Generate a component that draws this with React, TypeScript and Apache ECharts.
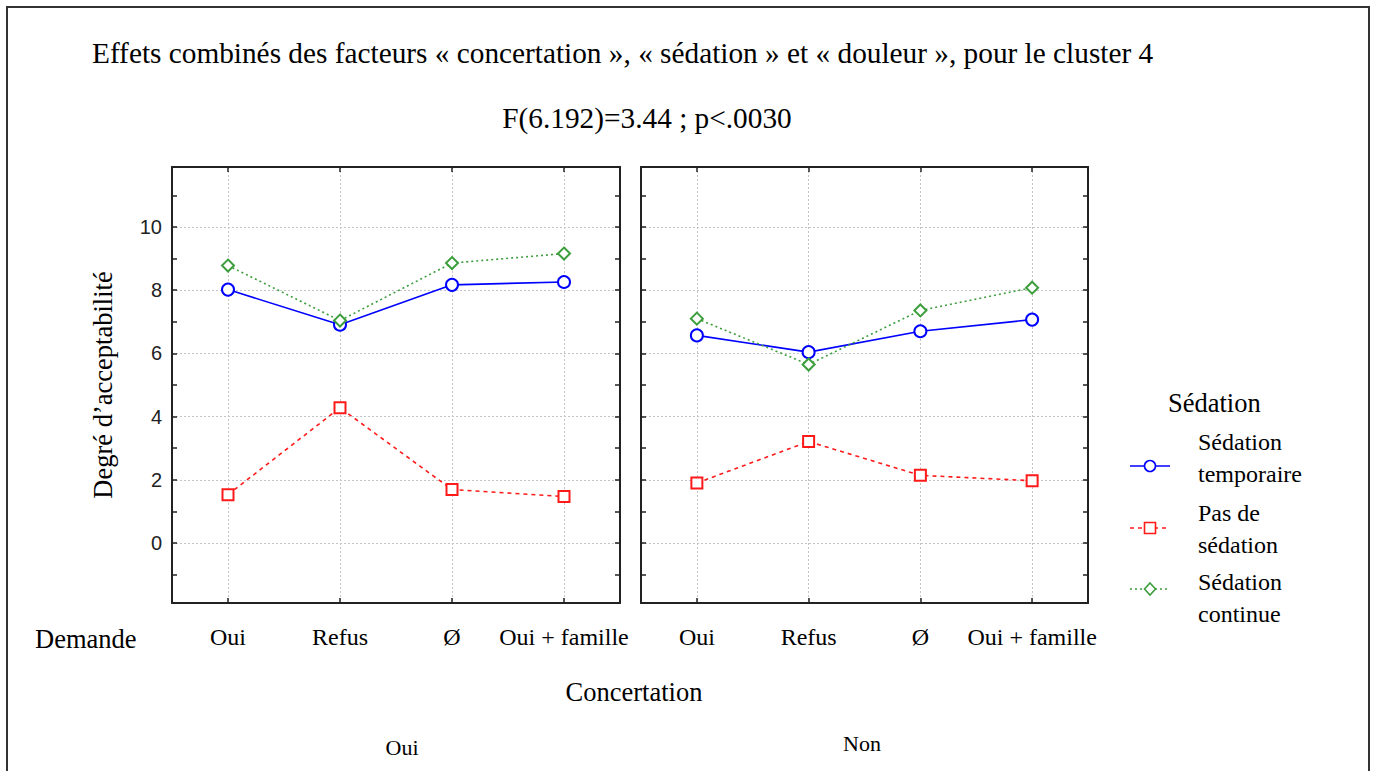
import React, { useEffect, useRef } from 'react';
import * as echarts from 'echarts';

const titleText = 'Effets combinés des facteurs « concertation », « sédation » et « douleur », pour le cluster 4';
const subtitleText = 'F(6.192)=3.44 ; p<.0030';
const yAxisTitle = 'Degré d’acceptabilité';
const xAxisTitle = 'Concertation';
const demandeTitle = 'Demande';
const legendTitle = 'Sédation';

const concertationLevels = ['Oui', 'Non'];
const demandes = ['Oui', 'Refus', 'Ø', 'Oui + famille'];
const seriesNames = ['Sédation\ntemporaire', 'Pas de\nsédation', 'Sédation\ncontinue'];

// Concertation = Oui
const temporaireOui = [8.02, 6.91, 8.17, 8.26];
const pasDeOui = [1.53, 4.28, 1.69, 1.47];
const continueOui = [8.78, 7.04, 8.86, 9.16];
// Concertation = Non
const temporaireNon = [6.57, 6.04, 6.70, 7.07];
const pasDeNon = [1.90, 3.21, 2.14, 1.97];
const continueNon = [7.10, 5.65, 7.36, 8.08];

const yMin = -1.9;
const yMax = 11.9;

const SERIF = '"Liberation Serif", "Times New Roman", serif';
const SANS = '"Liberation Sans", Arial, sans-serif';

const styles = [
  { color: '#0000ff', type: 'solid' as any, symbol: 'emptyCircle', size: 12 },
  { color: '#ff1a1a', type: [4, 4] as any, symbol: 'emptyRect', size: 11 },
  { color: '#3c9e3c', type: [2, 3] as any, symbol: 'emptyDiamond', size: 12 },
];

export default function App() {
  const ref = useRef<HTMLDivElement>(null);
  useEffect(() => {
    if (!ref.current) return;
    const chart = echarts.init(ref.current, undefined, { renderer: 'svg' });

    const grids = [
      { left: 172, top: 167, width: 448, height: 436 },
      { left: 641, top: 167, width: 447, height: 436 },
    ];

    const xAxes: any[] = [];
    const yAxes: any[] = [];
    grids.forEach((_, g) => {
      const common = {
        type: 'value',
        gridIndex: g,
        min: -0.5,
        max: demandes.length - 0.5,
        minInterval: 1,
        maxInterval: 1,
        axisLine: { show: true, onZero: false, lineStyle: { color: '#222', width: 2 } },
        axisTick: { show: true, inside: true, length: 5, lineStyle: { color: '#222', width: 1.5 } },
      };
      xAxes.push({
        ...common,
        position: 'bottom',
        axisLabel: {
          show: true,
          margin: 22,
          showMinLabel: false,
          showMaxLabel: false,
          fontFamily: SERIF,
          fontSize: 24,
          color: '#000',
          formatter: (v: number) => (Number.isInteger(v) && demandes[v] !== undefined ? demandes[v] : ''),
        },
        splitLine: {
          show: true,
          showMinLine: false,
          showMaxLine: false,
          lineStyle: { color: '#c4c4c4', type: [2, 2], width: 1 },
        },
      });
      xAxes.push({
        ...common,
        position: 'top',
        axisLabel: { show: false },
        splitLine: { show: false },
      });
      const yCommon = {
        type: 'value',
        gridIndex: g,
        min: yMin,
        max: yMax,
        minInterval: 2,
        maxInterval: 2,
        axisLine: { show: true, onZero: false, lineStyle: { color: '#222', width: 2 } },
        axisTick: { show: true, inside: true, length: 5, lineStyle: { color: '#222', width: 1.5 } },
        minorTick: { show: true, splitNumber: 2, length: 5, lineStyle: { color: '#222', width: 1.5 } },
      };
      yAxes.push({
        ...yCommon,
        position: 'left',
        name: g === 0 ? yAxisTitle : '',
        nameLocation: 'middle',
        nameRotate: 90,
        nameGap: 56,
        nameTextStyle: { fontFamily: SERIF, fontSize: 26.5, color: '#000' },
        axisLabel: {
          show: g === 0,
          margin: 10,
          showMinLabel: false,
          showMaxLabel: false,
          fontFamily: SANS,
          fontSize: 20,
          color: '#222',
        },
        splitLine: {
          show: true,
          showMinLine: false,
          showMaxLine: false,
          lineStyle: { color: '#c4c4c4', type: [2, 2], width: 1 },
        },
      });
      yAxes.push({
        ...yCommon,
        position: 'right',
        axisLabel: { show: false },
        splitLine: { show: false },
      });
    });

    const panelData = [
      [temporaireOui, pasDeOui, continueOui],
      [temporaireNon, pasDeNon, continueNon],
    ];

    const series: any[] = [];
    panelData.forEach((panel, g) => {
      panel.forEach((vals, s) => {
        const st = styles[s];
        series.push({
          type: 'line',
          name: seriesNames[s],
          xAxisIndex: g * 2,
          yAxisIndex: g * 2,
          data: vals.map((v, i) => [i, v]),
          symbol: st.symbol,
          symbolSize: st.size,
          showAllSymbol: true,
          lineStyle: { color: st.color, width: 1.6, type: st.type },
          itemStyle: { color: st.color, borderWidth: 1.6 },
          z: 3,
        });
      });
    });

    // legend graphics
    const legendLineY = [466, 528, 589];
    const legendTextTop = [442, 513, 582];
    const legendEls: any[] = [];
    seriesNames.forEach((name, i) => {
      const st = styles[i];
      const y = legendLineY[i];
      legendEls.push({
        type: 'line',
        shape: { x1: 1130, y1: y, x2: 1170, y2: y },
        style: { stroke: st.color, lineWidth: 1.6, lineDash: st.type === 'solid' ? null : st.type },
      });
      if (i === 0) {
        legendEls.push({ type: 'circle', shape: { cx: 1150, cy: y, r: 5.5 }, style: { fill: '#fff', stroke: st.color, lineWidth: 1.6 } });
      } else if (i === 1) {
        legendEls.push({ type: 'rect', shape: { x: 1144.5, y: y - 5.5, width: 11, height: 11 }, style: { fill: '#fff', stroke: st.color, lineWidth: 1.6 } });
      } else {
        legendEls.push({
          type: 'polygon',
          shape: { points: [[1150, y - 6], [1155.5, y], [1150, y + 6], [1144.5, y]] },
          style: { fill: '#fff', stroke: st.color, lineWidth: 1.6 },
        });
      }
      legendEls.push({
        type: 'text',
        x: 1198,
        y: legendTextTop[i] - 16,
        style: {
          text: name,
          fontFamily: SERIF,
          fontSize: 24,
          lineHeight: 32,
          fill: '#000',
          textAlign: 'left',
          textVerticalAlign: 'top',
        },
      });
    });

    const graphic: any[] = [
      {
        type: 'rect',
        shape: { x: 7, y: 7, width: 1362, height: 820 },
        style: { fill: 'none', stroke: '#333', lineWidth: 2 },
        silent: true,
      },
      {
        type: 'text', x: 92, y: 53,
        style: { text: titleText, fontFamily: SERIF, fontSize: 29.3, fill: '#000', textAlign: 'left', textVerticalAlign: 'middle' },
      },
      {
        type: 'text', x: 647, y: 118,
        style: { text: subtitleText, fontFamily: SERIF, fontSize: 29.3, fill: '#000', textAlign: 'center', textVerticalAlign: 'middle' },
      },
      {
        type: 'text', x: 35, y: 639,
        style: { text: demandeTitle, fontFamily: SERIF, fontSize: 26.5, fill: '#000', textAlign: 'left', textVerticalAlign: 'middle' },
      },
      {
        type: 'text', x: 634, y: 692,
        style: { text: xAxisTitle, fontFamily: SERIF, fontSize: 26.5, fill: '#000', textAlign: 'center', textVerticalAlign: 'middle' },
      },
      {
        type: 'text', x: 402, y: 747,
        style: { text: concertationLevels[0], fontFamily: SERIF, fontSize: 22, fill: '#000', textAlign: 'center', textVerticalAlign: 'middle' },
      },
      {
        type: 'text', x: 862, y: 743,
        style: { text: concertationLevels[1], fontFamily: SERIF, fontSize: 22, fill: '#000', textAlign: 'center', textVerticalAlign: 'middle' },
      },
      {
        type: 'text', x: 1168, y: 403,
        style: { text: legendTitle, fontFamily: SERIF, fontSize: 26.5, fill: '#000', textAlign: 'left', textVerticalAlign: 'middle' },
      },
      ...legendEls,
    ];

    chart.setOption({
      animation: false,
      backgroundColor: '#fff',
      grid: grids,
      xAxis: xAxes,
      yAxis: yAxes,
      series,
      graphic,
    });

    return () => chart.dispose();
  }, []);

  return (
    <div
      ref={ref}
      style={{ position: 'fixed', left: 0, top: 0, width: 1376, height: 771, background: '#fff' }}
    />
  );
}
